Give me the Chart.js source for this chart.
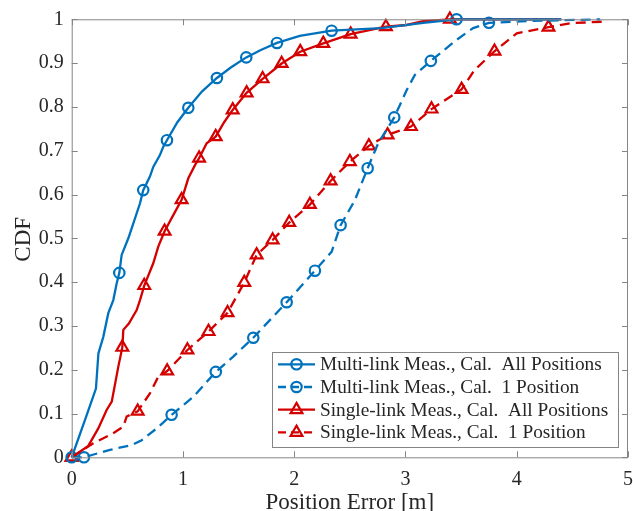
<!DOCTYPE html>
<html>
<head>
<meta charset="utf-8">
<script src="https://cdn.jsdelivr.net/npm/chart.js@4.4.1/dist/chart.umd.min.js"></script>
<style>
html,body{margin:0;padding:0;background:#fff;overflow:hidden}
canvas{display:block}
</style>
</head>
<body>
<canvas id="chart" width="633" height="511"></canvas>
<script>
// ---- data ----
const xTicks = [0, 1, 2, 3, 4, 5];
const yTicks = [0, 0.1, 0.2, 0.3, 0.4, 0.5, 0.6, 0.7, 0.8, 0.9, 1];
const xTitle = "Position Error [m]";
const yTitle = "CDF";
const seriesNames = [
  "Multi-link Meas., Cal.  All Positions",
  "Multi-link Meas., Cal.  1 Position",
  "Single-link Meas., Cal.  All Positions",
  "Single-link Meas., Cal.  1 Position"
];

const multiAllLine = [[0,0],[0.13,0.093],[0.218,0.157],[0.24,0.237],[0.284,0.275],[0.329,0.329],[0.374,0.359],[0.404,0.397],[0.428,0.421],[0.449,0.462],[0.509,0.5],[0.554,0.534],[0.614,0.58],[0.643,0.61],[0.703,0.641],[0.733,0.663],[0.793,0.69],[0.823,0.709],[0.856,0.724],[0.95,0.765],[1.048,0.798],[1.17,0.835],[1.305,0.866],[1.43,0.89],[1.569,0.913],[1.7,0.93],[1.845,0.946],[2.05,0.962],[2.336,0.974],[2.785,0.98],[3.16,0.992],[3.459,1],[4.4,1]];
const multiAllMarks = [[0,0],[0.428,0.421],[0.643,0.61],[0.856,0.724],[1.048,0.798],[1.305,0.866],[1.569,0.913],[1.845,0.946],[2.336,0.974],[3.459,1]];

const multiOneLine = [[0,0],[0.11,0],[0.344,0.017],[0.539,0.028],[0.629,0.039],[0.764,0.066],[0.898,0.097],[1.093,0.138],[1.295,0.195],[1.452,0.23],[1.632,0.273],[1.932,0.354],[2.186,0.426],[2.336,0.469],[2.417,0.53],[2.545,0.587],[2.66,0.66],[2.755,0.717],[2.899,0.776],[3.01,0.838],[3.084,0.873],[3.228,0.905],[3.459,0.953],[3.608,0.98],[3.75,0.992],[4.1,0.996],[4.75,1]];
const multiOneMarks = [[0.11,0],[0.898,0.097],[1.295,0.195],[1.632,0.273],[1.932,0.354],[2.186,0.426],[2.417,0.53],[2.66,0.66],[2.899,0.776],[3.228,0.905],[3.75,0.992]];

const singleAllLine = [[0,0],[0.149,0.026],[0.239,0.066],[0.314,0.108],[0.36,0.127],[0.419,0.207],[0.455,0.251],[0.464,0.291],[0.515,0.306],[0.584,0.336],[0.614,0.359],[0.652,0.392],[0.733,0.443],[0.778,0.481],[0.835,0.516],[0.913,0.553],[0.988,0.588],[1.048,0.637],[1.108,0.667],[1.145,0.683],[1.213,0.717],[1.294,0.732],[1.37,0.765],[1.447,0.793],[1.572,0.832],[1.716,0.864],[1.887,0.899],[2.054,0.926],[2.261,0.945],[2.507,0.966],[2.824,0.983],[3.01,0.987],[3.16,0.996],[3.399,1],[4.4,1]];
const singleAllMarks = [[0,0],[0.455,0.251],[0.652,0.392],[0.835,0.516],[0.988,0.588],[1.145,0.683],[1.294,0.732],[1.447,0.793],[1.572,0.832],[1.716,0.864],[1.887,0.899],[2.054,0.926],[2.261,0.945],[2.507,0.966],[2.824,0.983],[3.399,1]];

const singleOneLine = [[0,0],[0.194,0.032],[0.373,0.055],[0.464,0.07],[0.494,0.093],[0.593,0.105],[0.703,0.146],[0.778,0.184],[0.858,0.197],[1.04,0.245],[1.23,0.287],[1.401,0.33],[1.551,0.399],[1.662,0.462],[1.806,0.496],[1.955,0.536],[2.141,0.577],[2.327,0.631],[2.5,0.675],[2.671,0.711],[2.839,0.736],[3.049,0.755],[3.234,0.795],[3.504,0.84],[3.62,0.884],[3.8,0.927],[4.0,0.968],[4.285,0.982],[4.477,0.991],[4.81,0.995]];
const singleOneMarks = [[0,0],[0.593,0.105],[0.858,0.197],[1.04,0.245],[1.23,0.287],[1.401,0.33],[1.551,0.399],[1.662,0.462],[1.806,0.496],[1.955,0.536],[2.141,0.577],[2.327,0.631],[2.5,0.675],[2.671,0.711],[2.839,0.736],[3.049,0.755],[3.234,0.795],[3.504,0.84],[3.8,0.927],[4.285,0.982]];

// ---- styling ----
const BLUE = "#0072BD", RED = "#D40000";
const FONT = "'Liberation Serif', 'DejaVu Serif', serif";
const TEXT = "#262626", AXIS = "#858585";
const DASH = [10, 6];

const styles = [
  {color: BLUE, dash: [], marker: "circle"},
  {color: BLUE, dash: DASH, marker: "circle"},
  {color: RED, dash: [], marker: "triangle"},
  {color: RED, dash: DASH, marker: "triangle"}
];
const lines = [multiAllLine, multiOneLine, singleAllLine, singleOneLine];
const marks = [multiAllMarks, multiOneMarks, singleAllMarks, singleOneMarks];

const pts = arr => arr.map(p => ({x: p[0], y: p[1]}));

const datasets = [];
lines.forEach((l, i) => {
  datasets.push({
    label: seriesNames[i], data: pts(l), showLine: true,
    borderColor: styles[i].color, borderWidth: 2.3, borderDash: styles[i].dash,
    pointRadius: 0, tension: 0, clip: false
  });
});
marks.forEach((m, i) => {
  datasets.push({
    label: seriesNames[i] + " markers", data: pts(m), showLine: false,
    pointStyle: styles[i].marker, pointRadius: styles[i].marker === "circle" ? 5.2 : 6.8,
    pointBorderWidth: 2.2, pointBorderColor: styles[i].color,
    pointBackgroundColor: "rgba(0,0,0,0)", clip: false
  });
});

function marker(ctx, type, x, y, color){
  ctx.save();
  ctx.strokeStyle = color; ctx.lineWidth = 2.2; ctx.setLineDash([]);
  ctx.beginPath();
  if(type === "circle"){
    ctx.arc(x, y, 5.2, 0, Math.PI*2);
  } else {
    const r = 6.8;
    for(let k=0;k<3;k++){
      const a = k*2*Math.PI/3;
      const px = x + Math.sin(a)*r, py = y - Math.cos(a)*r;
      k ? ctx.lineTo(px, py) : ctx.moveTo(px, py);
    }
    ctx.closePath();
  }
  ctx.stroke();
  ctx.restore();
}

// box, inward ticks, titles and legend, MATLAB style
const frame = {
  id: "frame",
  afterDatasetsDraw(chart){
    const ctx = chart.ctx, a = chart.chartArea;
    const xs = chart.scales.x, ys = chart.scales.y;
    ctx.save();
    ctx.strokeStyle = AXIS; ctx.lineWidth = 1; ctx.setLineDash([]);
    ctx.strokeRect(a.left + 0.5, a.top + 0.5, a.right - a.left - 1, a.bottom - a.top);
    ctx.beginPath();
    xTicks.forEach(v => {
      const px = Math.round(xs.getPixelForValue(v)) + 0.5;
      ctx.moveTo(px, a.bottom); ctx.lineTo(px, a.bottom - 6);
      ctx.moveTo(px, a.top); ctx.lineTo(px, a.top + 6);
    });
    yTicks.forEach(v => {
      const py = Math.round(ys.getPixelForValue(v)) + 0.5;
      ctx.moveTo(a.left, py); ctx.lineTo(a.left + 6, py);
      ctx.moveTo(a.right, py); ctx.lineTo(a.right - 6, py);
    });
    ctx.stroke();

    // axis titles
    ctx.fillStyle = TEXT;
    ctx.font = "23px " + FONT;
    ctx.textAlign = "center"; ctx.textBaseline = "alphabetic";
    ctx.fillText(xTitle, (a.left + a.right)/2, 509);
    ctx.save();
    ctx.translate(30, (a.top + a.bottom)/2 + 1);
    ctx.rotate(-Math.PI/2);
    ctx.fillText(yTitle, 0, 0);
    ctx.restore();

    // legend
    const lx = 272, ly = 352, lw = 346, lh = 95;
    ctx.fillStyle = "#fff";
    ctx.fillRect(lx, ly, lw, lh);
    ctx.strokeStyle = AXIS;
    ctx.strokeRect(lx + 0.5, ly + 0.5, lw, lh);
    ctx.font = "19.3px " + FONT;
    ctx.textAlign = "left"; ctx.textBaseline = "middle";
    seriesNames.forEach((name, i) => {
      const cy = 364.3 + i*22.7;
      ctx.strokeStyle = styles[i].color; ctx.lineWidth = 2.3;
      ctx.setLineDash(styles[i].dash.length ? [8, 5] : []);
      ctx.beginPath(); ctx.moveTo(278, cy); ctx.lineTo(315, cy); ctx.stroke();
      marker(ctx, styles[i].marker, 296.5, cy, styles[i].color);
      ctx.fillStyle = TEXT;
      ctx.fillText(name, 320, cy + 1);
    });
    ctx.restore();
  }
};

new Chart(document.getElementById("chart"), {
  type: "scatter",
  data: {datasets},
  options: {
    responsive: false,
    animation: false,
    layout: {autoPadding: false, padding: {left: 0, top: 19.3, right: 5, bottom: 0}},
    plugins: {legend: {display: false}, tooltip: {enabled: false}},
    scales: {
      x: {
        type: "linear", min: 0, max: 5,
        afterBuildTicks: s => { s.ticks = xTicks.map(v => ({value: v})); },
        afterFit: s => { s.height = 53.7; s.paddingLeft = 0; s.paddingRight = 0; },
        grid: {display: false, drawTicks: false},
        border: {display: false},
        ticks: {padding: 10, color: TEXT, font: {family: FONT, size: 20}, callback: v => String(v)}
      },
      y: {
        type: "linear", min: 0, max: 1,
        afterBuildTicks: s => { s.ticks = yTicks.map(v => ({value: v})); },
        afterFit: s => { s.width = 71.7; s.paddingTop = 0; s.paddingBottom = 0; },
        grid: {display: false, drawTicks: false},
        border: {display: false},
        ticks: {padding: 8, color: TEXT, font: {family: FONT, size: 20}, callback: v => String(v)}
      }
    }
  },
  plugins: [frame]
});
</script>
</body>
</html>
